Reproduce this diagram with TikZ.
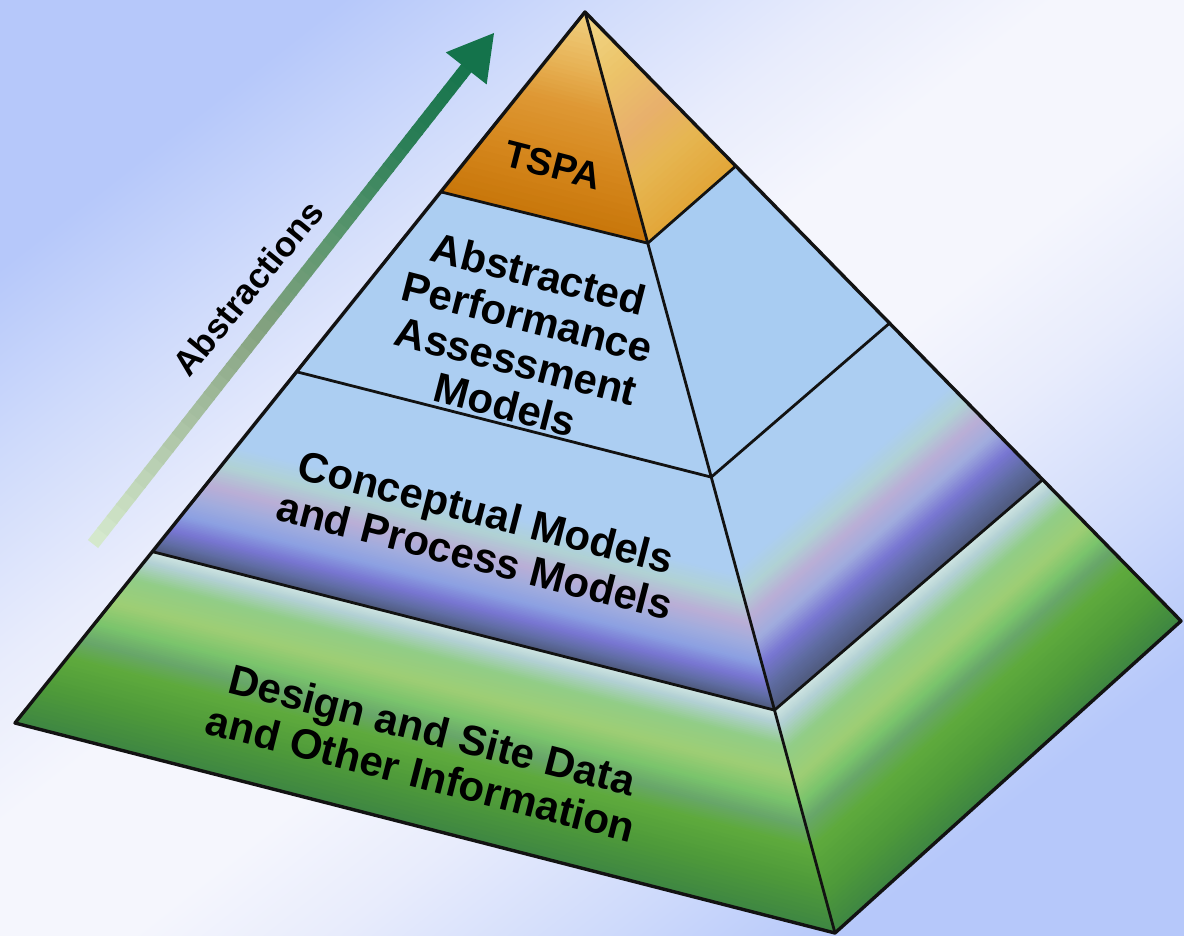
\documentclass[tikz,border=0pt]{standalone}
\usepackage{fontspec}
\setmainfont{Liberation Sans}
\usetikzlibrary{calc}

% background
\definecolor{bgb}{RGB}{182,200,250}
\definecolor{bgm}{RGB}{206,218,251}
\definecolor{bgl}{RGB}{232,236,252}
\definecolor{bgw}{RGB}{245,246,253}
\pgfdeclareverticalshading{bgsh}{100bp}{color(0bp)=(bgb); color(25bp)=(bgb); color(32bp)=(bgm); color(40bp)=(bgl); color(46bp)=(bgw); color(54bp)=(bgw); color(60bp)=(bgl); color(68bp)=(bgm); color(75bp)=(bgb); color(100bp)=(bgb)}
% TSPA front
\definecolor{tsa}{RGB}{240,208,128}
\definecolor{tsb}{RGB}{232,180,88}
\definecolor{tsc}{RGB}{222,152,52}
\definecolor{tsd}{RGB}{214,136,30}
\definecolor{tse}{RGB}{200,118,10}
% TSPA right
\definecolor{tra}{RGB}{242,216,138}
\definecolor{trb}{RGB}{236,196,105}
\definecolor{trc}{RGB}{232,176,108}
\definecolor{trd}{RGB}{230,182,82}
\definecolor{tre}{RGB}{226,166,56}
% abstracted
\definecolor{abf}{RGB}{172,206,242}
\definecolor{abr}{RGB}{168,204,242}
% conceptual
\definecolor{cpa}{RGB}{172,206,242}
\definecolor{cpb}{RGB}{176,210,212}
\definecolor{cpc}{RGB}{186,174,214}
\definecolor{cpd}{RGB}{160,172,222}
\definecolor{cpe}{RGB}{140,160,226}
\definecolor{cpf}{RGB}{120,118,210}
\definecolor{cpg}{RGB}{95,108,162}
\definecolor{cph}{RGB}{78,90,124}
% design
\definecolor{dsa}{RGB}{208,230,226}
\definecolor{dsb}{RGB}{178,208,212}
\definecolor{dsc}{RGB}{145,205,135}
\definecolor{dsd}{RGB}{158,206,116}
\definecolor{dse}{RGB}{122,196,108}
\definecolor{dsf}{RGB}{104,166,106}
\definecolor{dsg}{RGB}{94,170,60}
\definecolor{dsh}{RGB}{78,154,58}
\definecolor{dsi}{RGB}{62,134,66}
% arrow
\definecolor{ara}{RGB}{214,234,206}
\definecolor{arb}{RGB}{170,194,164}
\definecolor{arc}{RGB}{132,162,128}
\definecolor{ard}{RGB}{90,150,110}
\definecolor{are}{RGB}{42,126,86}
\definecolor{arf}{RGB}{20,115,75}
\definecolor{edge}{RGB}{18,18,18}

% bands inside a quad TL,TR,BR,BL; list of t0/t1/colour0/colour1
\newcommand\bandfill[5]{%
  \foreach \ta/\tb/\ca/\cb in {#5} {
    \foreach \k in {0,...,9} {
      \pgfmathsetmacro\bsa{\ta+(\tb-\ta)*\k/10}
      \pgfmathsetmacro\bsb{\ta+(\tb-\ta)*(\k+1)/10+0.004}
      \pgfmathsetmacro\bpc{100-100*(\k+0.5)/10}
      \fill[color=\ca!\bpc!\cb] ($(#1)!\bsa!(#4)$) -- ($(#2)!\bsa!(#3)$) -- ($(#2)!\bsb!(#3)$) -- ($(#1)!\bsb!(#4)$) -- cycle;
    }
  }%
}

\tikzset{
  outline/.style={draw=edge, line width=3.4pt, line join=round},
  inner/.style={draw=edge, line width=2.8pt, line cap=round},
  lbl/.style={font=\bfseries\fontsize{42}{45}\selectfont, align=center, inner sep=0pt, text=black},
}

\begin{document}
\begin{tikzpicture}[x=1pt,y=-1pt]
\useasboundingbox (0,0) rectangle (1184,936);
\shade[shading=bgsh, shading angle=38] (0,0) rectangle (1184,936);

% pyramid corners
\coordinate (A) at (585,12);
\coordinate (L4) at (15,723);
\coordinate (F4) at (835,933);
\coordinate (R4) at (1181,621);
% layer points
\coordinate (L1) at ($(A)!0.253!(L4)$);
\coordinate (L2) at ($(A)!0.506!(L4)$);
\coordinate (L3) at ($(A)!0.759!(L4)$);
\coordinate (F1) at ($(A)!0.251!(F4)$);
\coordinate (F2) at ($(A)!0.505!(F4)$);
\coordinate (F3) at ($(A)!0.758!(F4)$);
\coordinate (R1) at ($(A)!0.253!(R4)$);
\coordinate (R2) at ($(A)!0.511!(R4)$);
\coordinate (R3) at ($(A)!0.768!(R4)$);

% front face fills
\begin{scope}
\clip (A) -- (L4) -- (F4) -- cycle;
\bandfill{A}{A}{F1}{L1}{0/0.25/tsa/tsb, 0.25/0.45/tsb/tsc, 0.45/0.7/tsc/tsd, 0.7/1/tsd/tse}
\fill[abf] (L1) -- (F1) -- (F2) -- (L2) -- cycle;
\bandfill{L2}{F2}{F3}{L3}{0/0.42/cpa/cpa, 0.42/0.52/cpa/cpb, 0.52/0.63/cpb/cpc, 0.63/0.72/cpc/cpd, 0.72/0.8/cpd/cpe, 0.8/0.88/cpe/cpf, 0.88/0.95/cpf/cpg, 0.95/1/cpg/cph}
\bandfill{L3}{F3}{F4}{L4}{0/0.06/dsa/dsb, 0.06/0.16/dsb/dsc, 0.16/0.3/dsc/dsd, 0.3/0.42/dsd/dse, 0.42/0.52/dse/dsf, 0.52/0.62/dsf/dsg, 0.62/0.8/dsg/dsh, 0.8/1/dsh/dsi}
\end{scope}

% right face fills
\begin{scope}
\clip (A) -- (F4) -- (R4) -- cycle;
\bandfill{A}{A}{R1}{F1}{0/0.3/tra/trb, 0.3/0.55/trb/trc, 0.55/0.75/trc/trd, 0.75/1/trd/tre}
\fill[abr] (F1) -- (R1) -- (R2) -- (F2) -- cycle;
\bandfill{F2}{R2}{R3}{F3}{0/0.4/cpa/cpa, 0.4/0.5/cpa/cpb, 0.5/0.6/cpb/cpc, 0.6/0.7/cpc/cpd, 0.7/0.8/cpd/cpf, 0.8/0.9/cpf/cpg, 0.9/1/cpg/cph}
\bandfill{F3}{R3}{R4}{F4}{0/0.07/dsa/dsb, 0.07/0.18/dsb/dsc, 0.18/0.32/dsc/dsd, 0.32/0.42/dsd/dse, 0.42/0.5/dse/dsf, 0.5/0.62/dsf/dsg, 0.62/0.82/dsg/dsh, 0.82/1/dsh/dsi}
\end{scope}

% edges
\draw[inner] (A) -- (F4);
\draw[inner] (L1) -- (F1) -- (R1);
\draw[inner] (L2) -- (F2) -- (R2);
\draw[inner] (L3) -- (F3) -- (R3);
\draw[outline] (A) -- (L4) -- (F4) -- (R4) -- cycle;

% arrow
\coordinate (tail) at (93,544);
\coordinate (tip) at (494,33);
\coordinate (hb) at ($(tip)!45pt!(tail)$);
\foreach \ta/\tb/\ca/\cb in {0/0.25/ara/arb, 0.25/0.45/arb/arc, 0.45/0.65/arc/ard, 0.65/0.85/ard/are, 0.85/1.02/are/arf} {
  \foreach \k in {0,...,9} {
    \pgfmathsetmacro\bsa{\ta+(\tb-\ta)*\k/10}
    \pgfmathsetmacro\bsb{\ta+(\tb-\ta)*(\k+1)/10+0.003}
    \pgfmathsetmacro\bpc{100-100*(\k+0.5)/10}
    \draw[line width=13pt, color=\ca!\bpc!\cb] ($(tail)!\bsa!(hb)$) -- ($(tail)!\bsb!(hb)$);
  }
}
\fill[arf] (tip) -- ($(hb)!26pt!90:(tip)$) -- ($(hb)!26pt!-90:(tip)$) -- cycle;

% labels
\node[lbl, font=\bfseries\fontsize{38}{40}\selectfont, rotate=-14.4] (tspa) at (553,165) {TSPA};
\node[lbl, rotate=-14.4] (apam) at (522,339) {Abstracted\\Performance\\Assessment\\Models};
\node[lbl, rotate=-14.4] (cpm) at (480.5,533.5) {Conceptual Models\\and Process Models};
\node[lbl, rotate=-14.4] (dsd) at (426.5,751.5) {Design and Site Data\\and Other Information};
\node[lbl, font=\bfseries\fontsize{35}{38}\selectfont, rotate=50.7] (abs) at (248,288) {Abstractions};
\end{tikzpicture}
\end{document}
